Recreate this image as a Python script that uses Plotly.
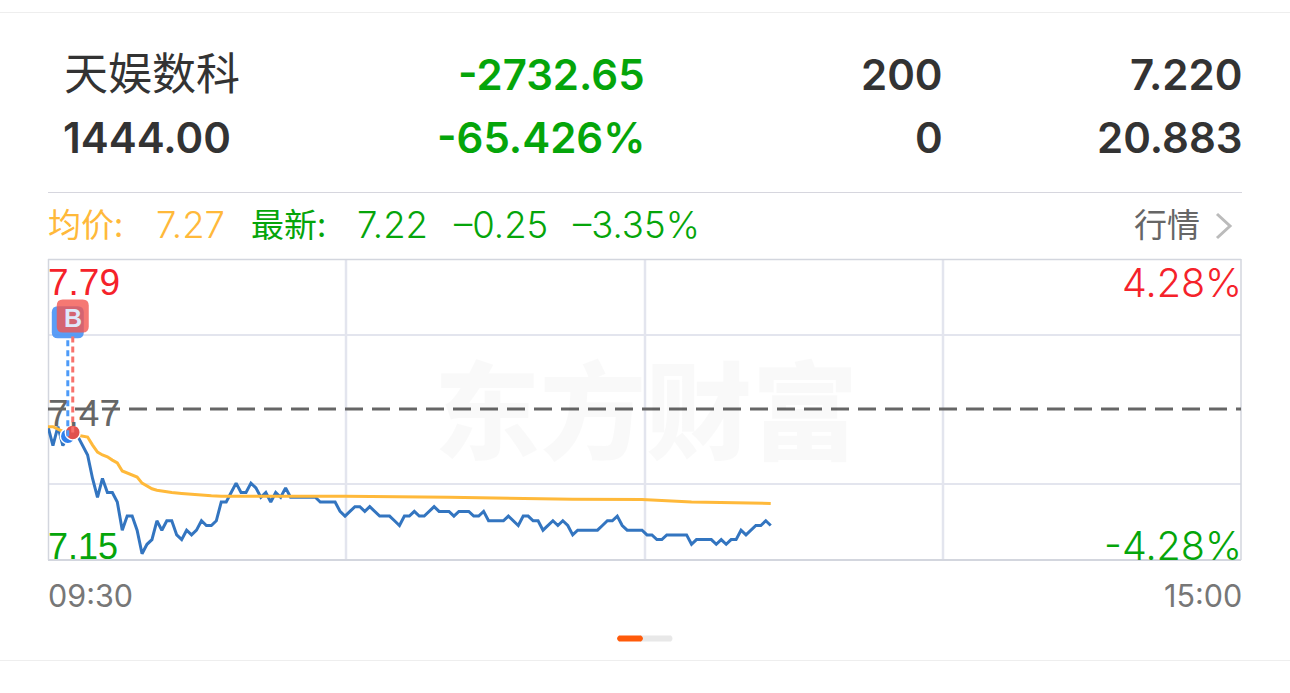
import plotly.graph_objects as go

# ---- data ----
minutes_count_axis = 241
last_prices = [
    7.43, 7.39, 7.43, 7.39, 7.41, 7.42, 7.41, 7.39, 7.37, 7.32,
    7.28, 7.32, 7.29, 7.29, 7.27, 7.21, 7.24, 7.24, 7.21, 7.16,
    7.18, 7.19, 7.23, 7.21, 7.23, 7.23, 7.20, 7.19, 7.21, 7.20,
    7.21, 7.23, 7.22, 7.22, 7.23, 7.27, 7.27, 7.29, 7.31, 7.29,
    7.29, 7.31, 7.30, 7.28, 7.29, 7.27, 7.29, 7.28, 7.30, 7.28,
    7.28, 7.28, 7.28, 7.28, 7.28, 7.27, 7.27, 7.27, 7.27, 7.25,
    7.24, 7.25, 7.26, 7.26, 7.25, 7.26, 7.25, 7.24, 7.24, 7.24,
    7.23, 7.22, 7.24, 7.24, 7.25, 7.24, 7.24, 7.25, 7.26, 7.25,
    7.25, 7.25, 7.24, 7.25, 7.25, 7.25, 7.24, 7.24, 7.25, 7.23,
    7.23, 7.23, 7.23, 7.24, 7.23, 7.22, 7.24, 7.24, 7.23, 7.23,
    7.21, 7.22, 7.23, 7.22, 7.23, 7.22, 7.20, 7.21, 7.21, 7.21,
    7.21, 7.21, 7.22, 7.23, 7.23, 7.24, 7.22, 7.21, 7.21, 7.21,
    7.21, 7.20, 7.20, 7.19, 7.19, 7.20, 7.20, 7.20, 7.20, 7.20,
    7.18, 7.19, 7.19, 7.19, 7.19, 7.18, 7.19, 7.18, 7.19, 7.19,
    7.21, 7.20, 7.21, 7.22, 7.22, 7.23, 7.22,
]
avg_minutes = [0, 1, 2, 3, 4, 5, 6, 7, 8, 9, 10, 11, 12, 13, 14, 15, 16, 17, 18, 19,
               20, 21, 22, 23, 24, 25, 27, 29, 31, 33, 35, 60, 81, 91, 106, 120, 130, 146]
avg_prices = [7.430, 7.430, 7.425, 7.420, 7.420, 7.415, 7.412, 7.410, 7.408, 7.391,
              7.376, 7.370, 7.366, 7.359, 7.353, 7.336, 7.332, 7.327, 7.323, 7.310,
              7.304, 7.298, 7.295, 7.293, 7.291, 7.290, 7.288, 7.286, 7.284, 7.283,
              7.282, 7.282, 7.280, 7.278, 7.276, 7.275, 7.270, 7.267]
trade_minutes = [4, 5]
trade_prices = [7.41, 7.418]
trade_colors = ["#2f80ed", "#e0524e"]
badge_colors = ["rgba(72,146,245,0.9)", "rgba(243,86,80,0.8)"]
badge_text = "B"

title_rows = [["天娱数科", "-2732.65", "200", "7.220"],
              ["1444.00", "-65.426%", "0", "20.883"]]

GREEN, RED, ORANGE, DARK, GRAY = "#05a50a", "#f5222a", "#ffb93a", "#333333", "#666666"
W, H = 1290, 693
L, R, T, B = 48, 1241, 259, 560


def xp(px):
    return (px - L) / (R - L)


def yp(py):
    return (B - py) / (B - T)


fig = go.Figure()
fig.add_trace(go.Scatter(x=list(range(len(last_prices))), y=last_prices, mode="lines",
                         line=dict(color="#3375c0", width=3, shape="linear"), hoverinfo="skip"))
fig.add_trace(go.Scatter(x=avg_minutes, y=avg_prices, mode="lines",
                         line=dict(color=ORANGE, width=3), hoverinfo="skip"))
fig.add_trace(go.Scatter(x=trade_minutes, y=trade_prices, mode="markers",
                         marker=dict(size=15, color=trade_colors, line=dict(color="white", width=1.5)),
                         hoverinfo="skip"))


def ln(x0, y0, x1, y1, color, width=1, dash="solid", layer="below"):
    fig.add_shape(type="line", xref="paper", yref="paper", x0=xp(x0), y0=yp(y0), x1=xp(x1), y1=yp(y1),
                  line=dict(color=color, width=width, dash=dash), layer=layer)


def text(px, py, s, color, size, anchor="left", family="Liberation Sans", weight=None):
    f = dict(color=color, size=size, family=family)
    if weight:
        f["weight"] = weight
    fig.add_annotation(xref="paper", yref="paper", x=xp(px), y=yp(py), text=s, showarrow=False,
                       xanchor=anchor, yanchor="middle", font=f, borderpad=0, borderwidth=0)


# outer separators
ln(0, 12.5, 1290, 12.5, "#eeeeee")
ln(48, 192.5, 1242, 192.5, "#d6d6de")
ln(0, 660.5, 1290, 660.5, "#eeeeee")
# chart grid
ln(48, 335, 1241, 335, "#e3e5ee", 2)
ln(48, 484, 1241, 484, "#e3e5ee", 2)
for gx in (346, 645, 943):
    ln(gx, 259, gx, 560, "#e3e5ee", 2.5)
ln(48, 259.5, 1241, 259.5, "#d3d6de", 1.5)
ln(48, 560, 1241, 560, "#d3d6de", 2)
ln(48.5, 259, 48.5, 560, "#d3d6de", 1.5)
ln(1241, 259, 1241, 560, "#d3d6de", 1.5)
# pre-close dashed line
fig.add_shape(type="line", xref="paper", yref="paper", x0=0, x1=1, y0=yp(409), y1=yp(409),
              line=dict(color="#666666", width=3, dash="18px 9px"), layer="below")

# trade drop lines and badges (pixel offsets above each trade point)
badge_bottoms = [98, 100]
badge_tops = [130, 133]
badge_half = 16
for m, p, dash_col, col, bot, top in zip(trade_minutes, trade_prices, ["#4d9bf8", "#f8726c"], badge_colors,
                                         badge_bottoms, badge_tops):
    fig.add_shape(type="line", xref="x", yref="y", xsizemode="pixel", ysizemode="pixel",
                  xanchor=m, yanchor=p, x0=0, x1=0, y0=0, y1=bot,
                  line=dict(color=dash_col, width=3, dash="6px 4px"), layer="above")
    r = 6
    l, rr, t, b = -badge_half, badge_half, top, bot
    path = (f"M {l + r} {b} L {rr - r} {b} Q {rr} {b} {rr} {b + r} L {rr} {t - r} Q {rr} {t} {rr - r} {t} "
            f"L {l + r} {t} Q {l} {t} {l} {t - r} L {l} {b + r} Q {l} {b} {l + r} {b} Z")
    fig.add_shape(type="path", xref="x", yref="y", xsizemode="pixel", ysizemode="pixel",
                  xanchor=m, yanchor=p, path=path, fillcolor=col, line=dict(width=0), layer="above")
fig.add_annotation(xref="x", yref="y", x=trade_minutes[1], y=trade_prices[1], yshift=114, text=badge_text,
                   showarrow=False, font=dict(color="#dfe8fa", size=25, family="Liberation Sans", weight="bold"),
                   xanchor="center", yanchor="middle")

# header rows
for row, py in zip(title_rows, (74, 138)):
    if row[0] == "天娱数科":
        text(64, py - 3, row[0], DARK, 44, "left", "Noto Sans CJK SC")
    else:
        text(63, py, row[0], DARK, 42, "left", "Inter", 600)
    text(645, py, row[1], GREEN, 42, "right", "Inter", 600)
    text(943, py, row[2], DARK, 42, "right", "Inter", 600)
    text(1242, py, row[3], DARK, 42, "right", "Inter", 600)

# info row
text(48, 223, "均价:", ORANGE, 33, "left", "Noto Sans CJK SC")
text(156, 225, "7.27", ORANGE, 36.5, "left", "Inter", 300)
text(251, 223, "最新:", GREEN, 33, "left", "Noto Sans CJK SC")
text(357, 225, "7.22", GREEN, 36.5, "left", "Inter", 300)
text(454, 225, "–0.25", GREEN, 36.5, "left", "Inter", 300)
text(573, 225, "–3.35%", GREEN, 36.5, "left", "Inter", 300)
text(1134, 223, "行情", GRAY, 33, "left", "Noto Sans CJK SC")
fig.add_shape(type="path", xref="paper", yref="paper",
              path=f"M {xp(1217)} {yp(214)} L {xp(1230)} {yp(226)} L {xp(1217)} {yp(238)}",
              line=dict(color="#bbbbbb", width=3), layer="above")

# axis labels
text(48, 282, "7.79", RED, 37)
text(48, 413, "7.47", GRAY, 37)
text(48, 546, "7.15", GREEN, 36)
text(1242, 283, "4.28%", RED, 39.5, "right", "Inter", 300)
text(1242, 546, "-4.28%", GREEN, 39.5, "right", "Inter", 300)
text(48, 595, "09:30", "#777777", 30.5, "left", "Inter", 400)
text(1242, 595, "15:00", "#777777", 30.5, "right", "Inter", 400)

# watermark
text(646, 405, "东方财富", "rgba(0,0,0,0.025)", 106, "center", "Noto Sans CJK SC", 900)

# pagination
fig.add_shape(type="path", xref="paper", yref="paper", layer="above", fillcolor="#e8e8e8", line=dict(width=0),
              path=f"M {xp(640)} {yp(635.5)} L {xp(671)} {yp(635.5)} Q {xp(674)} {yp(638.5)} {xp(671)} {yp(641.5)} L {xp(640)} {yp(641.5)} Z")
fig.add_shape(type="path", xref="paper", yref="paper", layer="above", fillcolor="#ff5a0a", line=dict(width=0),
              path=f"M {xp(619)} {yp(635.5)} L {xp(641)} {yp(635.5)} Q {xp(645)} {yp(638.5)} {xp(641)} {yp(641.5)} L {xp(619)} {yp(641.5)} Q {xp(615)} {yp(638.5)} {xp(619)} {yp(635.5)} Z")

fig.update_layout(
    width=W, height=H, autosize=False, showlegend=False,
    margin=dict(l=L, r=W - R, t=T, b=H - B, pad=0),
    paper_bgcolor="white", plot_bgcolor="white",
    xaxis=dict(range=[0, minutes_count_axis], showgrid=False, zeroline=False, showticklabels=False, ticks="", showline=False),
    yaxis=dict(range=[7.1466, 7.7867], showgrid=False, zeroline=False, showticklabels=False, ticks="", showline=False),
)
fig.write_html("out.html", config={"displayModeBar": False},
               post_script="document.body.style.margin='0';document.body.style.padding='0';window.dispatchEvent(new Event('resize'));")
